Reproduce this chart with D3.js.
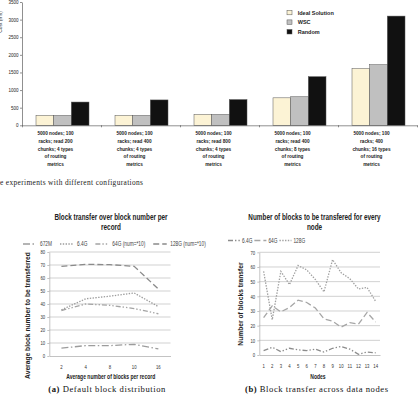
<!DOCTYPE html>
<html>
<head>
<meta charset="utf-8">
<script src="https://cdn.jsdelivr.net/npm/d3@7"></script>
<style>
  body { margin: 0; background: #fff; }
  svg { display: block; }
</style>
</head>
<body>
<div id="figure"></div>
<script>
// top chart: routing experiments
const configLabels = [
  ["5000 nodes; 100", "racks; read 200", "chunks; 4 types", "of routing", "metrics"],
  ["5000 nodes; 100", "racks; read 400", "chunks; 4 types", "of routing", "metrics"],
  ["5000 nodes; 100", "racks; read 800", "chunks; 4 types", "of routing", "metrics"],
  ["5000 nodes; 100", "racks; read 400", "chunks; 8 types", "of routing", "metrics"],
  ["5000 nodes; 100", "racks; 400", "chunks; 16 types", "of routing", "metrics"]
];
const routingSeries = ["Ideal Solution", "WSC", "Random"];
const idealValues = [280, 280, 310, 780, 1610];
const wscValues = [280, 280, 310, 810, 1720];
const randomValues = [660, 720, 730, 1380, 3100];
const routingTicks = [0, 500, 1000, 1500, 2000, 2500, 3000, 3500];

// (a) block transfer over block number per record
const blocksPerRecord = ["2", "4", "8", "10", "16"];
const record672M = [6, 8, 8, 9, 5.5];
const record6_4G = [35.5, 44, 46, 48.5, 38];
const record64G = [35, 40, 39, 36.5, 32.5];
const record128G = [69, 70.5, 70.3, 69, 51.5];
const recordTicks = [0, 10, 20, 30, 40, 50, 60, 70, 80];

// (b) blocks to be transfered per node
const nodeIds = ["1", "2", "3", "4", "5", "6", "7", "8", "9", "10", "11", "12", "13", "14"];
const node6_4G = [3, 5.3, 2.3, 4.6, 3.5, 3, 4, 2, 4.6, 5.8, 4, 0.5, 2, 1.5];
const node64G = [25.4, 33.5, 29.4, 32.4, 37.4, 35.8, 32, 24.7, 23, 19, 22, 21, 29, 22.5];
const node128G = [57, 24, 57, 48, 61, 58, 51.5, 43, 65, 56, 52, 45, 46, 36.5];
const nodeTicks = [0, 10, 20, 30, 40, 50, 60, 70];

const width = 418;
const height = 400;
const squeeze = 0.75; // the excel figures are squashed horizontally

const svg = d3.select("#figure")
  .append("svg")
    .attr("width", width)
    .attr("height", height)
    .attr("viewBox", `0 0 ${width} ${height}`)
    .style("font-family", "'Liberation Sans', Arial, sans-serif");

const styleAxis = (g, color) => {
  g.attr("font-family", null).attr("font-size", null);
  g.select(".domain").attr("stroke", color).attr("stroke-width", 0.6);
  g.selectAll(".tick line").attr("stroke", color).attr("stroke-width", 0.6);
};

// ---------- bar chart ----------
const barG = svg.append("g");
const seriesValues = [idealValues, wscValues, randomValues];

const xBand = d3.scaleBand()
  .domain(d3.range(configLabels.length))
  .range([22, 417]);
const xSeries = d3.scaleBand()
  .domain(routingSeries)
  .range([14, 67]);
const yBar = d3.scaleLinear()
  .domain([0, 3500])
  .range([125.3, 2]);
const colorBar = d3.scaleOrdinal()
  .domain(routingSeries)
  .range(["#fcf3d5", "#c0c0c0", "#111111"]);

const routingData = configLabels.map((lines, i) => ({
  index: i,
  values: routingSeries.map((s, j) => ({ series: s, value: seriesValues[j][i] }))
}));

const groups = barG.selectAll(".group")
  .data(routingData)
  .join("g")
    .attr("class", "group")
    .attr("transform", d => `translate(${xBand(d.index)},0)`);

groups.selectAll("rect")
  .data(d => d.values)
  .join("rect")
    .attr("x", d => xSeries(d.series))
    .attr("y", d => yBar(d.value))
    .attr("width", xSeries.bandwidth())
    .attr("height", d => yBar(0) - yBar(d.value))
    .attr("fill", d => colorBar(d.series))
    .attr("stroke", "#555")
    .attr("stroke-width", 0.5);

barG.append("g")
    .attr("transform", "translate(22,0)")
  .call(d3.axisLeft(yBar).tickValues(routingTicks).tickFormat(d3.format("d")).tickSize(2).tickSizeOuter(0).tickPadding(1.5))
  .call(g => styleAxis(g, "#444"))
  .call(g => g.selectAll(".tick text")
    .attr("fill", "#222")
    .style("font-size", "4.5px"));

//ticks on the x axis sit between the categories
const xEdges = d3.scaleLinear()
  .domain([0, configLabels.length])
  .range([22, 417]);
barG.append("g")
    .attr("transform", `translate(0,${yBar(0)})`)
  .call(d3.axisBottom(xEdges).tickValues(d3.range(configLabels.length + 1)).tickFormat("").tickSize(2).tickSizeOuter(0))
  .call(g => styleAxis(g, "#444"));

barG.selectAll(".config-label")
  .data(routingData)
  .join("text")
    .attr("class", "config-label")
    .attr("text-anchor", "middle")
    .attr("fill", "#1a1a1a")
    .style("font-size", "4.7px")
    .style("font-weight", "bold")
  .selectAll("tspan")
  .data(d => configLabels[d.index].map(line => ({ line, index: d.index })))
  .join("tspan")
    .attr("x", d => xBand(d.index) + xBand.bandwidth() / 2 - 6)
    .attr("y", (d, i) => 135 + i * 7.8)
    .text(d => d.line);

const barLegend = barG.append("g")
    .attr("transform", "translate(287,10.3)");
barLegend.selectAll("rect")
  .data(routingSeries)
  .join("rect")
    .attr("x", 0)
    .attr("y", (d, i) => i * 9.6)
    .attr("width", 5)
    .attr("height", 4.5)
    .attr("fill", colorBar)
    .attr("stroke", "#555")
    .attr("stroke-width", 0.5);
barLegend.selectAll("text")
  .data(routingSeries)
  .join("text")
    .attr("x", 10.7)
    .attr("y", (d, i) => i * 9.6 + 4.3)
    .text(d => d)
    .attr("fill", "#222")
    .style("font-size", "5.5px")
    .style("font-weight", "bold");

// y label of the top chart is cut by the page edge, as in the source
barG.append("text")
    .attr("transform", "translate(1.6,22) rotate(-90)")
    .attr("text-anchor", "middle")
    .text("Cost (ms)")
    .style("font-size", "5px")
    .attr("fill", "#333");

svg.append("text")
    .attr("x", 0)
    .attr("y", 185)
    .attr("textLength", 143)
    .attr("lengthAdjust", "spacing")
    .text("e experiments with different configurations")
    .style("font-family", "'Liberation Serif', 'Times New Roman', serif")
    .style("font-size", "7.4px")
    .attr("fill", "#222");

// ---------- line charts ----------
const drawLineChart = (cfg) => {
  const g = svg.append("g");
  const [left, right] = cfg.xRange;
  const [bottom] = cfg.yRange;

  const x = d3.scaleBand()
    .domain(cfg.categories)
    .range(cfg.xRange);
  const y = d3.scaleLinear()
    .domain(cfg.yDomain)
    .range(cfg.yRange);

  // gridlines
  g.append("g")
    .selectAll("line")
    .data(cfg.ticks.slice(1))
    .join("line")
      .attr("x1", left)
      .attr("x2", right)
      .attr("y1", d => y(d))
      .attr("y2", d => y(d))
      .attr("stroke", "#bdbdbd")
      .attr("stroke-width", 0.7);

  g.append("g")
      .attr("transform", `translate(${left},0)`)
    .call(d3.axisLeft(y).tickValues(cfg.ticks).tickSize(2).tickSizeOuter(0).tickPadding(3.5))
    .call(a => styleAxis(a, "#9a9a9a"))
    .call(a => a.selectAll(".tick text")
      .attr("fill", "#333")
      .attr("transform", `scale(${squeeze},1)`)
      .style("font-size", "5.6px"));

  g.append("g")
      .attr("transform", `translate(0,${bottom})`)
    .call(d3.axisBottom(x).tickSize(0).tickSizeOuter(0).tickPadding(9))
    .call(a => styleAxis(a, "#9a9a9a"))
    .call(a => a.selectAll(".tick text")
      .attr("fill", "#333")
      .attr("transform", `scale(${squeeze},1)`)
      .style("font-size", "5.7px"));

  const line = d3.line()
    .x((d, i) => x(cfg.categories[i]) + x.bandwidth() / 2)
    .y(d => y(d));

  g.selectAll(".series")
    .data(cfg.series)
    .join("path")
      .attr("class", "series")
      .attr("d", d => line(d.values))
      .attr("fill", "none")
      .attr("stroke", d => d.color)
      .attr("stroke-width", 1.3)
      .attr("stroke-dasharray", d => d.dash);

  // legend laid out left to right
  let cursor = cfg.legend.x;
  cfg.series.forEach(s => {
    g.append("line")
      .attr("x1", cursor)
      .attr("x2", cursor + cfg.legend.line)
      .attr("y1", cfg.legend.y)
      .attr("y2", cfg.legend.y)
      .attr("stroke", s.color)
      .attr("stroke-width", 1.3)
      .attr("stroke-dasharray", s.dash);
    const label = g.append("text")
      .attr("transform", `translate(${cursor + cfg.legend.line + cfg.legend.gap},${cfg.legend.y + 2.1}) scale(${squeeze},1)`)
      .text(s.name)
      .attr("fill", "#444")
      .style("font-size", "6.4px");
    cursor += cfg.legend.line + cfg.legend.gap + label.node().getComputedTextLength() * squeeze + cfg.legend.spacing;
  });

  g.selectAll(".title")
    .data(cfg.title)
    .join("text")
      .attr("class", "title")
      .attr("transform", (d, i) => `translate(${cfg.titleX},${219.5 + i * 10.5}) scale(${squeeze},1)`)
      .attr("text-anchor", "middle")
      .text(d => d)
      .attr("fill", "#222")
      .style("font-size", "8.5px")
      .style("font-weight", "bold");

  g.append("text")
      .attr("transform", `translate(${cfg.yTitle.x},${cfg.yTitle.y}) rotate(-90)`)
      .attr("text-anchor", "middle")
      .text(cfg.yTitle.text)
      .attr("fill", "#222")
      .style("font-size", "6.7px")
      .style("font-weight", "bold");

  g.append("text")
      .attr("transform", `translate(${cfg.xTitle.x},379) scale(${squeeze},1)`)
      .attr("text-anchor", "middle")
      .text(cfg.xTitle.text)
      .attr("fill", "#222")
      .style("font-size", "6.7px")
      .style("font-weight", "bold");

  const caption = g.append("text")
      .attr("x", cfg.caption.x)
      .attr("y", 391.5)
      .attr("textLength", cfg.caption.length)
      .attr("lengthAdjust", "spacing")
      .attr("fill", "#111")
      .style("font-family", "'Liberation Serif', 'Times New Roman', serif")
      .style("font-size", "8.6px");
  caption.append("tspan").style("font-weight", "bold").text(cfg.caption.tag);
  caption.append("tspan").text(" " + cfg.caption.text);
};

drawLineChart({
  categories: blocksPerRecord,
  xRange: [49.3, 170.5],
  yRange: [356, 252],
  yDomain: [0, 80],
  ticks: recordTicks,
  series: [
    { name: "672M", values: record672M, color: "#9c9c9c", dash: "7,2.5,1.5,2.5" },
    { name: "6.4G", values: record6_4G, color: "#9c9c9c", dash: "1.4,1.4" },
    { name: "64G (num=*10)", values: record64G, color: "#a4a4a4", dash: "5,2,1.4,2,1.4,2" },
    { name: "128G (num=*10)", values: record128G, color: "#8a8a8a", dash: "6,3" }
  ],
  legend: { x: 23, y: 244, line: 13.5, gap: 3.5, spacing: 8 },
  title: ["Block transfer over block number per", "record"],
  titleX: 111,
  yTitle: { text: "Average block number to be transferred", x: 30.3, y: 315.5 },
  xTitle: { text: "Average number of blocks per record", x: 110.8 },
  caption: { tag: "(a)", text: "Default block distribution", x: 48.3, length: 117 }
});

drawLineChart({
  categories: nodeIds,
  xRange: [259.3, 380],
  yRange: [355, 252.3],
  yDomain: [0, 70],
  ticks: nodeTicks,
  series: [
    { name: "6.4G", values: node6_4G, color: "#8c8c8c", dash: "5,2,1.4,2,1.4,2" },
    { name: "64G", values: node64G, color: "#a6a6a6", dash: "6,3" },
    { name: "128G", values: node128G, color: "#a0a0a0", dash: "1.4,1.4" }
  ],
  legend: { x: 228, y: 240.5, line: 12, gap: 2, spacing: 2 },
  title: ["Number of blocks to be transfered for  every", "node"],
  titleX: 314.5,
  yTitle: { text: "Number of blocks transfer", x: 242.8, y: 304 },
  xTitle: { text: "Nodes", x: 318 },
  caption: { tag: "(b)", text: "Block transfer across data nodes", x: 245, length: 143 }
});
</script>
</body>
</html>
